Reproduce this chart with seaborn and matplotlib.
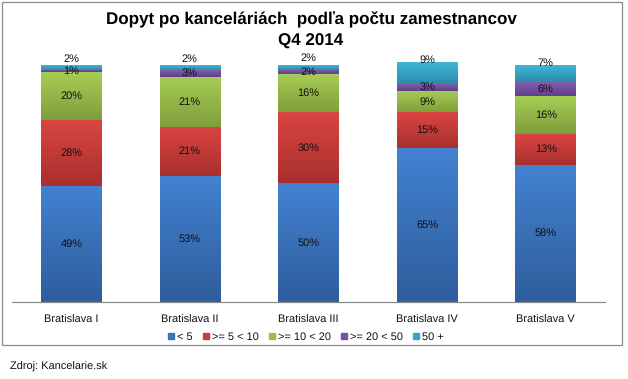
import numpy as np
import pandas as pd
import matplotlib
matplotlib.use("Agg")
import matplotlib.pyplot as plt
import seaborn as sns
from matplotlib.patches import Rectangle
from matplotlib.colors import LinearSegmentedColormap

sns.set_theme(style="white")
plt.rcParams['font.family'] = ['Liberation Sans', 'DejaVu Sans']
plt.rcParams['text.color'] = '#111111'
plt.rcParams['text.hinting_factor'] = 1
plt.rcParams['text.hinting'] = 'no_hinting'

categories = ["Bratislava I", "Bratislava II", "Bratislava III", "Bratislava IV", "Bratislava V"]
series_names = ["< 5", ">= 5 < 10", ">= 10 < 20", ">= 20 < 50", "50 +"]
lt5 = [49, 53, 50, 65, 58]
s5_10 = [28, 21, 30, 15, 13]
s10_20 = [20, 21, 16, 9, 16]
s20_50 = [1, 3, 2, 3, 6]
s50p = [2, 2, 2, 9, 7]

series = [lt5, s5_10, s10_20, s20_50, s50p]
colors = ["#3A74C0", "#C83D3A", "#98BC4C", "#7753A2", "#37A6C6"]
grad_top = ["#4282D1", "#DA4542", "#A7CD55", "#8560B2", "#42B6D8"]
grad_bot = ["#2F5D9C", "#A8302D", "#7F9E3A", "#5E4089", "#2A8CA8"]
# offsets (in %-points) for the top-segment label placement, as in the reference
top_label_offset = [2.3, 2.3, 2.9, 2.3, 1.0]

W, H = 628, 379
fig = plt.figure(figsize=(W / 100, H / 100), dpi=100)
ax = fig.add_axes([12 / W, 1 - 302 / H, (605 - 12) / W, (302 - 65) / H])

cum = np.cumsum(np.array(series), axis=0)
bar_width = 0.51
# draw cumulative bars from the top series down so they stack visually
for i in range(len(series) - 1, -1, -1):
    df = pd.DataFrame({"cat": categories, "val": cum[i]})
    sns.barplot(data=df, x="cat", y="val", color=colors[i], width=bar_width,
                saturation=1, ax=ax, linewidth=0, clip_on=False)

# vertical gradient shading on each visible segment
grad = np.linspace(1, 0, 256).reshape(-1, 1)
for i, s in enumerate(series):
    cmap = LinearSegmentedColormap.from_list(f"g{i}", [grad_bot[i], grad_top[i]])
    for j, v in enumerate(s):
        top = cum[i][j]
        bottom = top - v
        ax.imshow(grad, cmap=cmap, aspect="auto", interpolation="bilinear",
                  extent=[j - bar_width / 2, j + bar_width / 2, bottom, top],
                  zorder=2, clip_on=False, vmin=0, vmax=1)

# labels
for i, s in enumerate(series):
    for j, v in enumerate(s):
        bottom = cum[i][j] - v
        if i == len(series) - 1:
            y = 100 + top_label_offset[j]
        else:
            y = bottom + v / 2
        ax.text(j, y, f"{v}%", ha="center", va="center", fontsize=7.8,
                color="#111111", zorder=5)

ax.set_ylim(0, 100)
ax.set_xlim(-0.5, 4.5)
ax.set_xlabel("")
ax.set_ylabel("")
ax.set_yticks([])
ax.tick_params(axis="x", length=0, labelsize=7.7, pad=9, colors="#111111")
for sp in ["top", "left", "right"]:
    ax.spines[sp].set_visible(False)
ax.spines["bottom"].set_color("#8a8a8a")
ax.spines["bottom"].set_linewidth(0.9)
ax.patch.set_alpha(0)

# legend
handles = [Rectangle((0, 0), 1, 1, color=c) for c in colors]
fig.legend(handles, series_names, loc="center", bbox_to_anchor=(306 / W, 1 - 337 / H),
           ncol=5, frameon=False, fontsize=7.6, handlelength=0.55, handleheight=0.55,
           handletextpad=0.3, columnspacing=0.95)

# title
fig.text(311 / W, 1 - 20 / H, "Dopyt po kanceláriách  podľa počtu zamestnancov",
         ha="center", va="center", fontsize=12, fontweight="bold", color="black")
fig.text(311 / W, 1 - 41 / H, "Q4 2014", ha="center", va="center", fontsize=12,
         fontweight="bold", color="black")

# chart frame
fig.add_artist(Rectangle((2 / W, 1 - 345 / H), 620 / W, 343 / H, transform=fig.transFigure,
                         fill=False, edgecolor="#8a8a8a", linewidth=0.9))

fig.text(10 / W, 1 - 367 / H, "Zdroj: Kancelarie.sk", ha="left", va="center",
         fontsize=7.6, color="#111111")

fig.savefig("out.png", dpi=100)
